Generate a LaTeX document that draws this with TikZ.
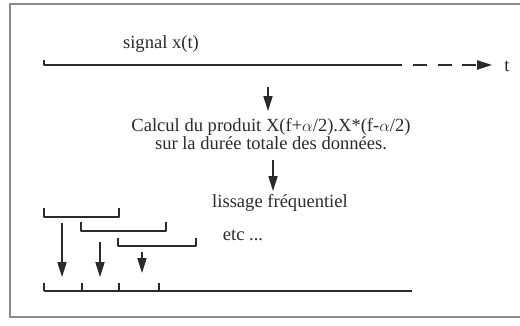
\documentclass[tikz,border=0pt]{standalone}
\usepackage{fontspec}
\setmainfont{Liberation Serif}
\usetikzlibrary{arrows.meta}
\definecolor{ink}{HTML}{2B2B2B}
\definecolor{frame}{HTML}{8C8C8C}
\tikzset{
  base/.style={draw=ink, line width=0.75pt, line join=round},
  arr/.style={base, -{Triangle[length=10.5pt,width=6.5pt]}},
  brk/.style={base},
  lab/.style={text=ink, font=\fontsize{13.2}{12.5}\selectfont, inner sep=0pt},
}

\begin{document}
\begin{tikzpicture}[x=0.025cm,y=-0.025cm]
  \useasboundingbox (0,0) rectangle (520,326);
  % cadre
  \draw[draw=frame, line width=0.8pt] (521,4) -- (10,4) -- (10,317) -- (521,317);

  % signal x(t)
  \coordinate (S0) at (44,65);
  \coordinate (S1) at (402,65);
  \coordinate (T0) at (413,65);
  \coordinate (T1) at (492,65);
  \draw[base] (44,60) -- (S0) -- (S1);
  \draw[arr, line width=1pt, dash pattern=on 10pt off 7.5pt] (T0) -- (T1);
  \node[lab, anchor=west] (t) at (504,66) {t};
  \node[lab] (sig) at (161,44) {signal x(t)};

  % calcul
  \coordinate (A0) at (268,87);
  \node[lab, align=center] (calc) at (271,134)
    {Calcul du produit X(f+$\alpha$/2).X*(f-$\alpha$/2)\\sur la durée totale des données.};
  \coordinate (A1) at (268,111);
  \draw[arr] (A0) -- (A1);

  % lissage
  \node[lab] (liss) at (280,203) {lissage fréquentiel};
  \coordinate (B0) at (273,160);
  \coordinate (B1) at (273,191);
  \draw[arr] (B0) -- (B1);

  % fenetres
  \draw[brk] (44,208) -- (44,217) -- (119,217) -- (119,208);
  \draw[brk] (81,222) -- (81,231) -- (166,231) -- (166,222);
  \draw[brk] (118,238) -- (118,246) -- (196,246) -- (196,238);
  \node[lab] (etc) at (243,235) {etc ...};

  % axe
  \coordinate (X0) at (44,291);
  \coordinate (X1) at (412,291);
  \draw[base] (X0) -- (X1);
  \foreach \x in {44,82,119,159} \draw[base] (\x,291) -- (\x,283);

  \coordinate (W1) at (62,223);
  \coordinate (W2) at (100,242);
  \coordinate (W3) at (142,252);
  \draw[arr] (W1) -- (62,277);
  \draw[arr] (W2) -- (100,277);
  \draw[arr] (W3) -- (142,273);
\end{tikzpicture}
\end{document}
